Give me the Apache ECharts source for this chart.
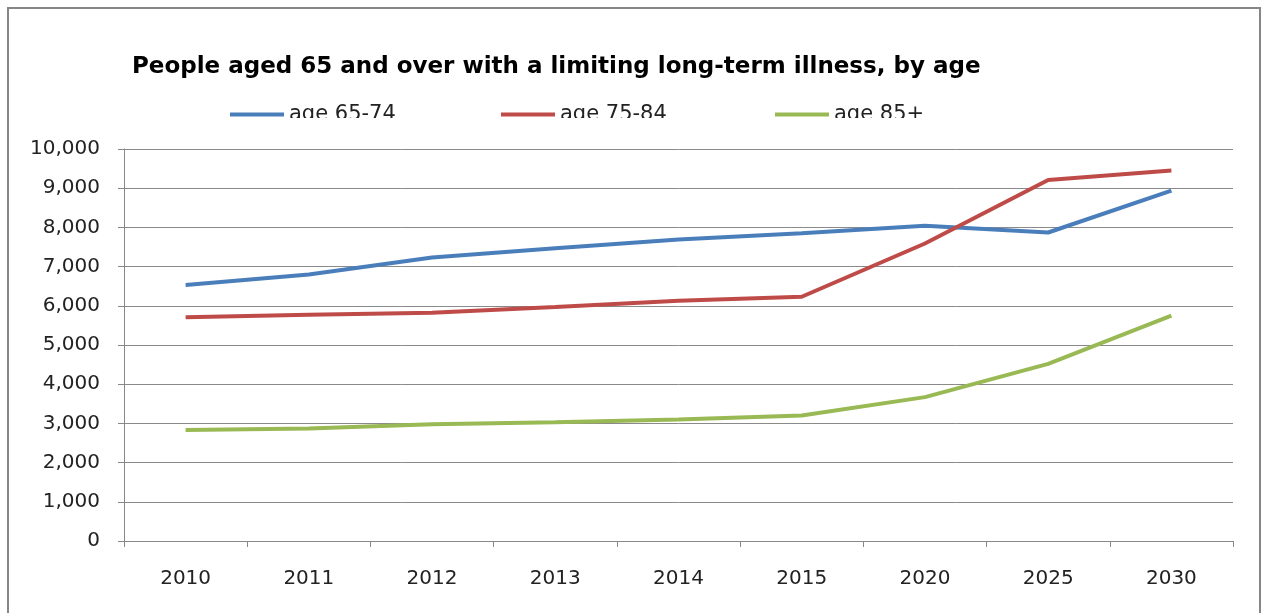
<!DOCTYPE html>
<html><head><meta charset="utf-8">
<script src="https://cdn.jsdelivr.net/npm/echarts@6/dist/echarts.min.js"></script>
<style>html,body{margin:0;padding:0;background:#fff}#c{width:1269px;height:613px}</style>
</head><body><div id="c"></div>
<script>
const categories = ['2010','2011','2012','2013','2014','2015','2020','2025','2030'];
const age6574 = [6530, 6800, 7230, 7470, 7690, 7850, 8040, 7870, 8940];
const age7584 = [5710, 5770, 5820, 5970, 6130, 6230, 7590, 9210, 9450];
const age85 = [2830, 2870, 2980, 3030, 3100, 3200, 3670, 4520, 5750];
const seriesNames = ['age 65-74', 'age 75-84', 'age 85+'];
const colors = ['#4a7ebb', '#be4b48', '#98b954'];
const FONT = 'DejaVu Sans';

const chart = echarts.init(document.getElementById('c'));
const legendLefts = [225, 496, 770];
chart.setOption({
  animation: false,
  title: {
    text: 'People aged 65 and over with a limiting long-term illness, by age',
    left: 127, top: 51,
    textStyle: { fontFamily: FONT, fontWeight: 'bold', fontSize: 23, color: '#000' }
  },
  legend: seriesNames.map((n, i) => ({
    data: [n], left: legendLefts[i], top: 99,
    icon: 'rect', itemWidth: 54, itemHeight: 4,
    textStyle: { fontFamily: FONT, fontSize: 21, color: '#222' }
  })),
  grid: { left: 124, right: 36, top: 149, bottom: 72 },
  xAxis: {
    type: 'category', data: categories, boundaryGap: true,
    axisLine: { lineStyle: { color: '#888', width: 1 } },
    axisTick: { show: true, length: 6, lineStyle: { color: '#888' } },
    axisLabel: { fontFamily: FONT, fontSize: 20, color: '#222', margin: 28 }
  },
  yAxis: {
    type: 'value', min: 0, max: 10000, interval: 1000,
    axisLine: { show: true, lineStyle: { color: '#888' } },
    axisTick: { show: true, length: 6, lineStyle: { color: '#888' } },
    splitLine: { lineStyle: { color: '#8a8a8a', width: 1 } },
    axisLabel: { fontFamily: FONT, fontSize: 20, color: '#222', margin: 24,
      formatter: v => v.toLocaleString('en-US') }
  },
  series: [age6574, age7584, age85].map((d, i) => ({
    name: seriesNames[i], type: 'line', data: d, symbol: 'none',
    lineStyle: { width: 4, color: colors[i] }, itemStyle: { color: colors[i] }
  })),
  graphic: [
    { type: 'rect', shape: { x: 280, y: 118, width: 700, height: 10 }, style: { fill: '#fff' }, z: 100 },
    { type: 'rect', shape: { x: 8, y: 8, width: 1252, height: 640 }, style: { fill: 'none', stroke: '#868686', lineWidth: 2 }, z: 100 }
  ]
});
</script></body></html>
